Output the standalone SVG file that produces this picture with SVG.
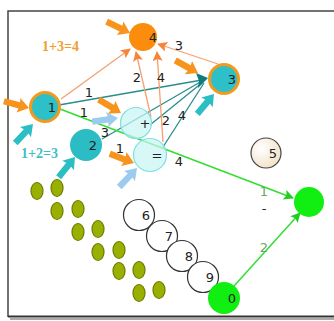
<svg xmlns="http://www.w3.org/2000/svg" width="334" height="321" viewBox="0 0 334 321">
<style>
.lbl{font-family:"DejaVu Sans","Liberation Sans",sans-serif;font-size:13px;fill:#222;text-anchor:middle}
.eq{font-family:"Liberation Serif",serif;font-size:14px;font-weight:bold}
.or{stroke:#f4a070;stroke-width:1.3;fill:none}
.tl{stroke:#2a8c8c;stroke-width:1.3;fill:none}
.gr{stroke:#33dd33;stroke-width:1.5;fill:none}
.wn{fill:#fff;stroke:#333;stroke-width:1.2}
.ol{fill:#99b000;stroke:#6b7a00;stroke-width:1.2}
</style>
<defs>
<marker id="mo" markerUnits="userSpaceOnUse" markerWidth="10" markerHeight="10" viewBox="0 0 10 10" refX="9" refY="5" orient="auto"><path d="M0,0 L10,5 L0,10 L2,5 Z" fill="#f7843a"/></marker>
<marker id="mg" markerUnits="userSpaceOnUse" markerWidth="10" markerHeight="10" viewBox="0 0 10 10" refX="9" refY="5" orient="auto"><path d="M0,0 L10,5 L0,10 L2,5 Z" fill="#22cc22"/></marker>
<path id="ba" d="M0,0 L-11,-7.5 L-10,-3.2 L-26,-3.2 L-26,3.2 L-10,3.2 L-11,7.5 Z"/>
<radialGradient id="g5" cx="0.35" cy="0.35" r="0.7"><stop offset="0" stop-color="#ffffff"/><stop offset="1" stop-color="#f3e2c8"/></radialGradient>
</defs>
<rect width="334" height="321" fill="#fff"/>
<g id="frame">
<path d="M10,319 H334" stroke="#aaa" stroke-width="2" fill="none"/>
<path d="M8,317 V11 H334" stroke="#444" stroke-width="1.5" fill="none"/>
<path d="M8,316.5 H334" stroke="#333" stroke-width="2" fill="none"/>
</g>
<text class="eq" x="42" y="51" fill="#f0a030">1+3=4</text>
<text class="eq" x="21" y="158" fill="#40c0c4">1+2=3</text>
<g id="edges">
<line class="tl" x1="59" y1="105" x2="202" y2="80"/>
<line class="tl" x1="102" y1="139" x2="202" y2="81"/>
<line class="tl" x1="150" y1="125" x2="203" y2="82"/>
<line class="tl" x1="163" y1="147" x2="204" y2="83"/>
<polygon points="208,78 196,73 199,81 198,88" fill="#0e7c7b"/>
<line class="or" x1="61" y1="99" x2="130" y2="49" marker-end="url(#mo)"/>
<line class="or" x1="151" y1="117" x2="136" y2="52" marker-end="url(#mo)"/>
<line class="or" x1="163" y1="142" x2="157" y2="52" marker-end="url(#mo)"/>
<line class="or" x1="218" y1="64" x2="158" y2="44" marker-end="url(#mo)"/>
<line class="gr" x1="60" y1="109" x2="293" y2="198" marker-end="url(#mg)"/>
<line class="gr" x1="234" y1="286" x2="300" y2="213" marker-end="url(#mg)"/>
<text class="lbl" x="89" y="97">1</text>
<text class="lbl" x="84" y="117">1</text>
<text class="lbl" x="105" y="137">3</text>
<text class="lbl" x="137" y="82">2</text>
<text class="lbl" x="161" y="82">4</text>
<text class="lbl" x="179" y="50">3</text>
<text class="lbl" x="166" y="125">2</text>
<text class="lbl" x="182" y="120">4</text>
<text class="lbl" x="120" y="153">1</text>
<text class="lbl" x="179" y="166">4</text>
<text class="lbl" x="264" y="196" style="fill:#6aa86a">1</text>
<text class="lbl" x="264" y="213">-</text>
<text class="lbl" x="264" y="252" style="fill:#6aa86a">2</text>
</g>
<g id="pointers">
<use href="#ba" fill="#f7941d" transform="translate(130,33) rotate(26)"/>
<use href="#ba" fill="#f7941d" transform="translate(29,108) rotate(15)"/>
<use href="#ba" fill="#2bbfc4" transform="translate(33,124) rotate(-47)"/>
<use href="#ba" fill="#2bbfc4" transform="translate(75,157) rotate(-51)"/>
<use href="#ba" fill="#f7941d" transform="translate(121,113) rotate(31)"/>
<use href="#ba" fill="#9ccbf0" transform="translate(118,118) rotate(-8)"/>
<use href="#ba" fill="#f7941d" transform="translate(134,163) rotate(21)"/>
<use href="#ba" fill="#9ccbf0" transform="translate(137,168) rotate(-47)"/>
<use href="#ba" fill="#f7941d" transform="translate(198,73) rotate(29)"/>
<use href="#ba" fill="#2bbfc4" transform="translate(214,94) rotate(-50)"/>
</g>
<g id="n4"><circle cx="143" cy="37" r="14" fill="#fb8c0c"/><text class="lbl" x="153" y="42">4</text></g>
<g id="n1"><circle cx="45" cy="107" r="14.5" fill="#2dc0c8" stroke="#f39a1c" stroke-width="3"/><text class="lbl" x="52" y="112">1</text></g>
<g id="n3"><circle cx="224" cy="79" r="14.5" fill="#2dc0c8" stroke="#f39a1c" stroke-width="3"/><text class="lbl" x="232" y="84">3</text></g>
<g id="n2"><circle cx="86" cy="145" r="16" fill="#2cbcc4"/><text class="lbl" x="93" y="150">2</text></g>
<g id="nplus"><circle cx="136" cy="123" r="15.5" fill="#c8f5f5" fill-opacity="0.7" stroke="#80e0e0" stroke-width="1.2"/><text class="lbl" x="145" y="128">+</text></g>
<g id="neq"><circle cx="150" cy="155" r="16.5" fill="#c8f5f5" fill-opacity="0.7" stroke="#80e0e0" stroke-width="1.2"/><text class="lbl" x="157" y="160">=</text></g>
<g id="n5"><circle cx="266" cy="153" r="15" fill="url(#g5)" stroke="#444" stroke-width="1.2"/><text class="lbl" x="273" y="158">5</text></g>
<g id="ng"><circle cx="309" cy="202" r="15" fill="#11ee11"/></g>
<g id="n6"><circle class="wn" cx="139" cy="215" r="15.5"/><text class="lbl" x="146" y="220">6</text></g>
<g id="n7"><circle class="wn" cx="162" cy="236" r="15.5"/><text class="lbl" x="169" y="241">7</text></g>
<g id="n8"><circle class="wn" cx="182" cy="256" r="15.5"/><text class="lbl" x="189" y="261">8</text></g>
<g id="n9"><circle class="wn" cx="203" cy="277" r="15.5"/><text class="lbl" x="210" y="282">9</text></g>
<g id="n0"><circle cx="224" cy="298" r="16" fill="#11ee11"/><text class="lbl" x="232" y="303">0</text></g>
<g id="dots">
<ellipse class="ol" cx="37" cy="191" rx="6" ry="8.5"/>
<ellipse class="ol" cx="57" cy="188" rx="6" ry="8.5"/>
<ellipse class="ol" cx="57" cy="211" rx="6" ry="8.5"/>
<ellipse class="ol" cx="78" cy="209" rx="6" ry="8.5"/>
<ellipse class="ol" cx="78" cy="232" rx="6" ry="8.5"/>
<ellipse class="ol" cx="98" cy="229" rx="6" ry="8.5"/>
<ellipse class="ol" cx="98" cy="252" rx="6" ry="8.5"/>
<ellipse class="ol" cx="119" cy="250" rx="6" ry="8.5"/>
<ellipse class="ol" cx="119" cy="271" rx="6" ry="8.5"/>
<ellipse class="ol" cx="139" cy="270" rx="6" ry="8.5"/>
<ellipse class="ol" cx="139" cy="293" rx="6" ry="8.5"/>
<ellipse class="ol" cx="159" cy="290" rx="6" ry="8.5"/>
</g>
</svg>
